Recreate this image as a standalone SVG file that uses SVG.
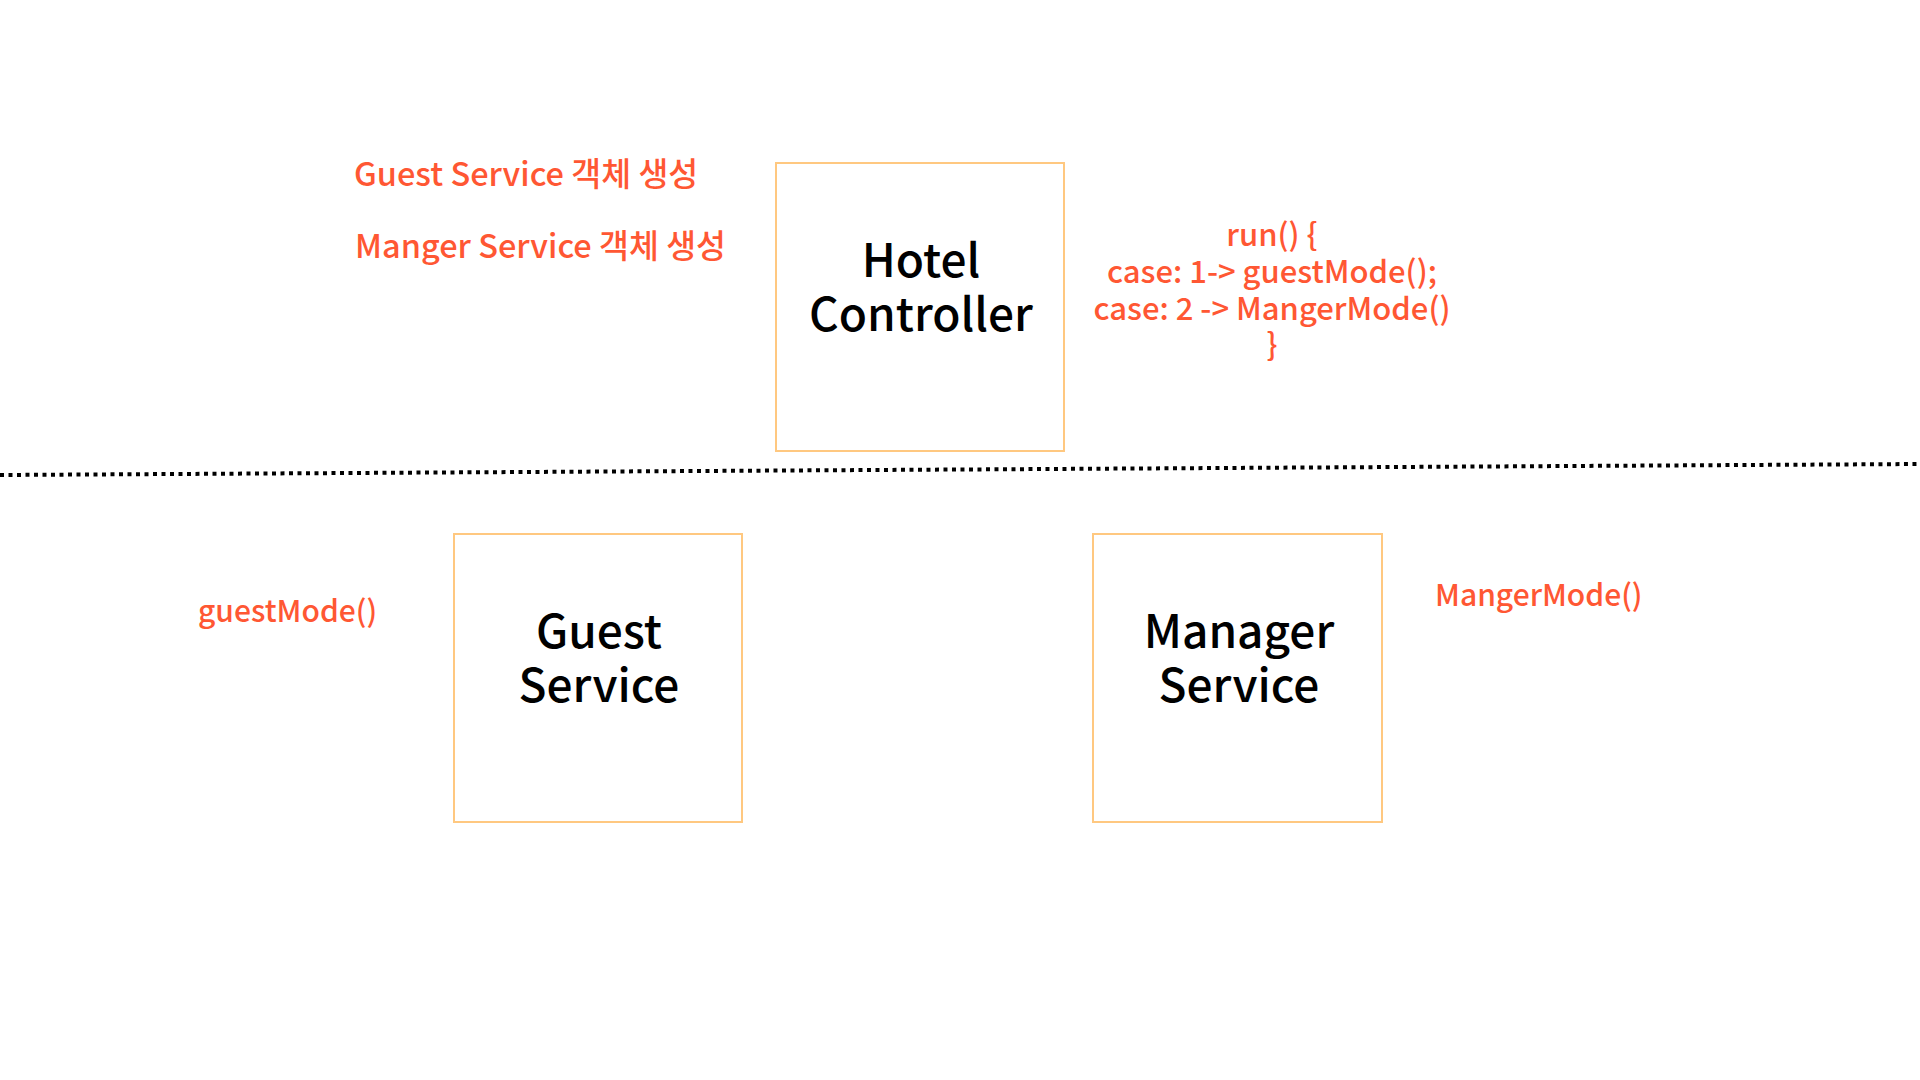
<svg xmlns="http://www.w3.org/2000/svg" width="1920" height="1080" viewBox="0 0 1920 1080">
<style>
.box{fill:#ffffff;stroke:#FFC880;stroke-width:2}
.lbl{font-family:"Noto Sans CJK KR","Noto Sans",sans-serif;font-size:46px;font-weight:500;fill:#000000;text-anchor:middle}
.red{font-family:"Noto Sans CJK KR","Noto Sans",sans-serif;font-size:31px;font-weight:500;fill:#FF5733}
.big{font-size:32.5px}
.sm{font-size:30px}
.mid{text-anchor:middle}
</style>
<rect width="1920" height="1080" fill="#ffffff"/>
<g id="connectors">
<line x1="0" y1="475" x2="1920" y2="464" stroke="#000000" stroke-width="4" stroke-dasharray="4 4.5"/>
</g>
<g id="hotel-controller">
<rect class="box" x="776" y="163" width="288" height="288"/>
<text class="lbl" x="921" y="277">Hotel</text>
<text class="lbl" x="921" y="331">Controller</text>
</g>
<g id="guest-service">
<rect class="box" x="454" y="534" width="288" height="288"/>
<text class="lbl" x="599" y="648">Guest</text>
<text class="lbl" x="599" y="702">Service</text>
</g>
<g id="manager-service">
<rect class="box" x="1093" y="534" width="289" height="288"/>
<text class="lbl" x="1239" y="648">Manager</text>
<text class="lbl" x="1239" y="702">Service</text>
</g>
<g id="notes">
<text class="red big" x="354" y="186">Guest Service 객체 생성</text>
<text class="red big" x="355" y="258">Manger Service 객체 생성</text>
<text class="red mid" x="1272" y="246">run() {</text>
<text class="red mid" x="1272" y="283">case: 1-&gt; guestMode();</text>
<text class="red mid" x="1272" y="320">case: 2 -&gt; MangerMode()</text>
<text class="red mid" x="1272" y="356">}</text>
<text class="red sm" x="198" y="622">guestMode()</text>
<text class="red sm" x="1435" y="606">MangerMode()</text>
</g>
</svg>
